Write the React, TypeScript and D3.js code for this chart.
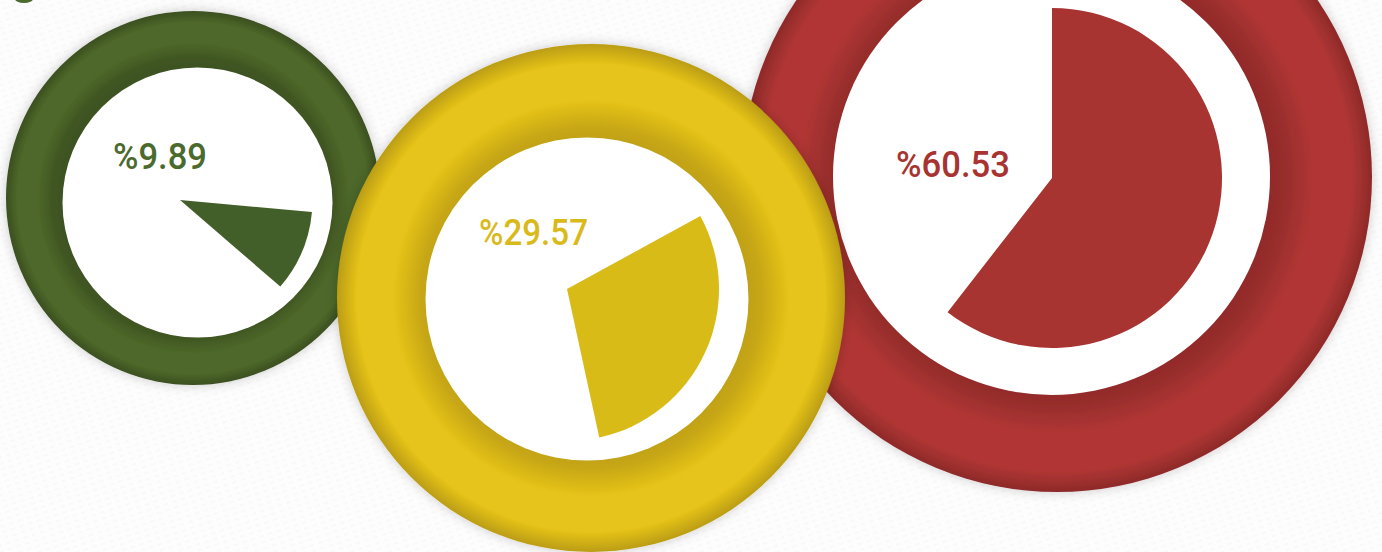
import React from 'react';
import * as d3 from 'd3';

// chart data
const categories = ['green', 'yellow', 'red'];
const shares = [9.89, 29.57, 60.53];

const WIDTH = 1382;
const HEIGHT = 552;

// layout + style per ring (drawn in this order: green, red, yellow on top)
const LAYOUT: Record<string, any> = {
  green: {
    outer: { cx: 193, cy: 198, r: 187 },
    inner: { cx: 197.5, cy: 202.5, r: 135 },
    wedge: { cx: 180, cy: 200, r: 132.5 },
    rotate: 95.2,
    label: { x: 113, y: 169, w: 94 },
    dark: '#3a4e1f',
    light: '#4d6829',
    fill: '#435f29',
    text: '#4b6a2e',
  },
  yellow: {
    outer: { cx: 591, cy: 298, r: 254 },
    inner: { cx: 587, cy: 299, r: 161.5 },
    wedge: { cx: 567, cy: 289, r: 152 },
    rotate: 61.3,
    label: { x: 479, y: 245, w: 109 },
    dark: '#b99b12',
    light: '#e7c41a',
    fill: '#d9bb18',
    text: '#dab91b',
  },
  red: {
    outer: { cx: 1057, cy: 177, r: 315 },
    inner: { cx: 1051.5, cy: 176.5, r: 218.5 },
    wedge: { cx: 1052, cy: 178, r: 170 },
    rotate: 0,
    label: { x: 896, y: 177, w: 114 },
    dark: '#8c2928',
    light: '#b13634',
    fill: '#a83431',
    text: '#a83432',
  },
};

const DRAW_ORDER = ['green', 'red', 'yellow'];

const angle = d3.scaleLinear().domain([0, 100]).range([0, 2 * Math.PI]);
const deg = (d: number) => (d * Math.PI) / 180;

export default function App() {
  const arc = d3.arc<any>().innerRadius(0);

  return (
    <svg
      width={WIDTH}
      height={HEIGHT}
      style={{ position: 'absolute', left: 0, top: 0, display: 'block' }}
    >
      <defs>
        <pattern
          id="paper"
          width={9}
          height={6}
          patternUnits="userSpaceOnUse"
          patternTransform="rotate(-18)"
        >
          <line x1={0} y1={3} x2={5} y2={3} stroke="#d8d8d8" strokeWidth={0.7} strokeDasharray="1.5 1" opacity={0.5} />
        </pattern>
        <filter id="shadow" x="-20%" y="-20%" width="140%" height="140%">
          <feDropShadow dx={0} dy={0} stdDeviation={6} floodColor="#000" floodOpacity={0.2} />
        </filter>
        {categories.map((c) => {
          const L = LAYOUT[c];
          const t0 = L.inner.r / L.outer.r;
          const mid = d3.interpolateRgb(L.light, L.dark);
          return (
            <radialGradient
              key={c}
              id={`ring-${c}`}
              gradientUnits="userSpaceOnUse"
              cx={L.outer.cx}
              cy={L.outer.cy}
              r={L.outer.r}
            >
              <stop offset={t0 - 0.02} stopColor={mid(0.85)} />
              <stop offset={t0 + (1 - t0) * 0.1} stopColor={mid(0.7)} />
              <stop offset={t0 + (1 - t0) * 0.4} stopColor={L.light} />
              <stop offset={t0 + (1 - t0) * 0.78} stopColor={L.light} />
              <stop offset={1} stopColor={mid(0.95)} />
            </radialGradient>
          );
        })}
      </defs>

      <rect width={WIDTH} height={HEIGHT} fill="#fdfdfd" />
      <rect width={WIDTH} height={HEIGHT} fill="url(#paper)" />

      <ellipse cx={24} cy={-1} rx={9} ry={4} fill="#4b6a2e" />

      {DRAW_ORDER.map((c) => {
        const i = categories.indexOf(c);
        const v = shares[i];
        const L = LAYOUT[c];
        const start = deg(L.rotate);
        const d = arc({
          outerRadius: L.wedge.r,
          startAngle: start,
          endAngle: start + angle(v),
        });
        return (
          <g key={c}>
            <circle
              cx={L.outer.cx}
              cy={L.outer.cy}
              r={L.outer.r}
              fill={`url(#ring-${c})`}
              filter="url(#shadow)"
            />
            <circle cx={L.inner.cx} cy={L.inner.cy} r={L.inner.r} fill="#ffffff" />
            <path d={d ?? ''} transform={`translate(${L.wedge.cx},${L.wedge.cy})`} fill={L.fill} />
            <text
              x={L.label.x}
              y={L.label.y}
              fill={L.text}
              fontFamily="Roboto, 'DejaVu Sans', sans-serif"
              fontWeight={500}
              fontSize={36}
              textLength={L.label.w}
              lengthAdjust="spacingAndGlyphs"
            >
              {`%${v}`}
            </text>
          </g>
        );
      })}
    </svg>
  );
}
